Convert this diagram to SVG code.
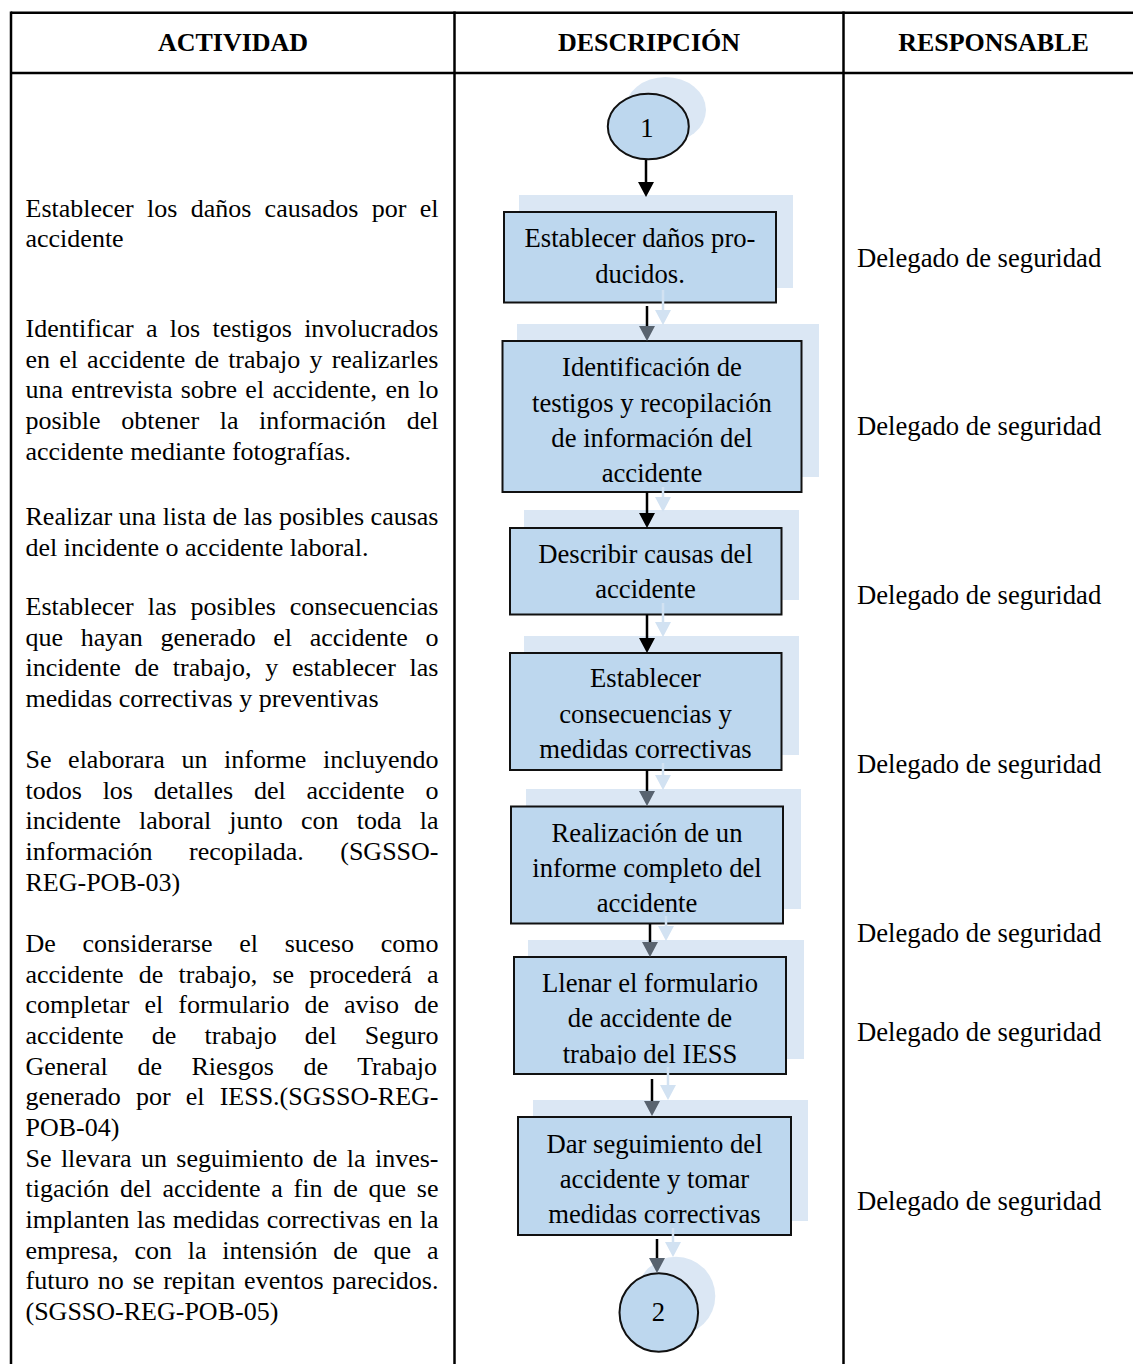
<svg xmlns="http://www.w3.org/2000/svg" width="1133" height="1364" viewBox="0 0 1133 1364">
<style>
.tbl{stroke:#000;stroke-width:2.5;fill:none}
.hdr{font-family:"Liberation Serif","Times New Roman",serif;font-size:26px;font-weight:bold;text-anchor:middle;fill:#000}
.act{font-family:"Liberation Serif","Times New Roman",serif;font-size:26px;fill:#000}
.resp{font-family:"Liberation Serif","Times New Roman",serif;font-size:26.67px;fill:#000}
.shd{fill:#dbe7f4}
.box{fill:#bdd7ee;stroke:#111;stroke-width:2}
.bt{font-family:"Liberation Serif","Times New Roman",serif;font-size:26.67px;text-anchor:middle;fill:#000}
.ln{stroke:#000;stroke-width:2.5;fill:none}
.lns{stroke:#d2e2f2;stroke-width:2.5;fill:none}
</style>
<defs>
<marker id="hb" viewBox="0 0 15 16" refX="0" refY="8" markerWidth="15" markerHeight="16" markerUnits="userSpaceOnUse" orient="auto"><path d="M0,0 L15,8 L0,16 z" fill="#000"/></marker>
<marker id="hg" viewBox="0 0 15 16" refX="0" refY="8" markerWidth="15" markerHeight="16" markerUnits="userSpaceOnUse" orient="auto"><path d="M0,0 L15,8 L0,16 z" fill="#58636f"/></marker>
<marker id="hl" viewBox="0 0 15 16" refX="0" refY="8" markerWidth="15" markerHeight="16" markerUnits="userSpaceOnUse" orient="auto"><path d="M0,0 L15,8 L0,16 z" fill="#d2e2f2"/></marker>
<clipPath id="clip6"><rect x="500" y="940" width="320" height="124.5"/></clipPath>
</defs>

<g id="table">
<line class="tbl" x1="11" y1="12.7" x2="1133" y2="12.7"/>
<line class="tbl" x1="11" y1="73" x2="1133" y2="73"/>
<line class="tbl" x1="11" y1="11.5" x2="11" y2="1364"/>
<line class="tbl" x1="454.5" y1="11.5" x2="454.5" y2="1364"/>
<line class="tbl" x1="843.5" y1="11.5" x2="843.5" y2="1364"/>
<text class="hdr" x="233" y="50.5">ACTIVIDAD</text>
<text class="hdr" x="649" y="50.5">DESCRIPCIÓN</text>
<text class="hdr" x="993.5" y="50.5">RESPONSABLE</text>
</g>

<g id="actividad">
<text class="act" x="25.5" y="216.5" word-spacing="6.78">Establecer los daños causados por el</text>
<text class="act" x="25.5" y="247">accidente</text>

<text class="act" x="25.5" y="337" word-spacing="5.76">Identificar a los testigos involucrados</text>
<text class="act" x="25.5" y="367.7" word-spacing="2.66">en el accidente de trabajo y realizarles</text>
<text class="act" x="25.5" y="398.4" word-spacing="1.81">una entrevista sobre el accidente, en lo</text>
<text class="act" x="25.5" y="429" word-spacing="14.07">posible obtener la información del</text>
<text class="act" x="25.5" y="459.7">accidente mediante fotografías.</text>

<text class="act" x="25.5" y="525">Realizar una lista de las posibles causas</text>
<text class="act" x="25.5" y="555.7">del incidente o accidente laboral.</text>

<text class="act" x="25.5" y="615" word-spacing="7.46">Establecer las posibles consecuencias</text>
<text class="act" x="25.5" y="645.7" word-spacing="11.13">que hayan generado el accidente o</text>
<text class="act" x="25.5" y="676.4" word-spacing="7.22">incidente de trabajo, y establecer las</text>
<text class="act" x="25.5" y="707">medidas correctivas y preventivas</text>

<text class="act" x="25.5" y="768" word-spacing="10.1">Se elaborara un informe incluyendo</text>
<text class="act" x="25.5" y="798.7" word-spacing="14.29">todos los detalles del accidente o</text>
<text class="act" x="25.5" y="829.4" word-spacing="11.69">incidente laboral junto con toda la</text>
<text class="act" x="25.5" y="860" word-spacing="29.95">información recopilada. (SGSSO-</text>
<text class="act" x="25.5" y="890.7">REG-POB-03)</text>

<text class="act" x="25.5" y="952" word-spacing="20.22">De considerarse el suceso como</text>
<text class="act" x="25.5" y="982.7" word-spacing="8.68">accidente de trabajo, se procederá a</text>
<text class="act" x="25.5" y="1013.4" word-spacing="8.52">completar el formulario de aviso de</text>
<text class="act" x="25.5" y="1044" word-spacing="21.66">accidente de trabajo del Seguro</text>
<text class="act" x="25.5" y="1074.7" word-spacing="23.1">General de Riesgos de Trabajo</text>
<text class="act" x="25.5" y="1105.4" word-spacing="8.65">generado por el IESS.(SGSSO-REG-</text>
<text class="act" x="25.5" y="1136">POB-04)</text>

<text class="act" x="25.5" y="1166.7" word-spacing="2.88">Se llevara un seguimiento de la inves-</text>
<text class="act" x="25.5" y="1197.3" word-spacing="4.23">tigación del accidente a fin de que se</text>
<text class="act" x="25.5" y="1228" word-spacing="0.72">implanten las medidas correctivas en la</text>
<text class="act" x="25.5" y="1258.7" word-spacing="9.26">empresa, con la intensión de que a</text>
<text class="act" x="25.5" y="1289.4" word-spacing="2.31">futuro no se repitan eventos parecidos.</text>
<text class="act" x="25.5" y="1320">(SGSSO-REG-POB-05)</text>
</g>

<g id="responsable">
<text class="resp" x="857" y="267">Delegado de seguridad</text>
<text class="resp" x="857" y="435">Delegado de seguridad</text>
<text class="resp" x="857" y="604">Delegado de seguridad</text>
<text class="resp" x="857" y="773">Delegado de seguridad</text>
<text class="resp" x="857" y="942">Delegado de seguridad</text>
<text class="resp" x="857" y="1041">Delegado de seguridad</text>
<text class="resp" x="857" y="1210">Delegado de seguridad</text>
</g>

<g id="shadows">
<ellipse class="shd" cx="665.5" cy="110" rx="40.5" ry="33"/>
<rect class="shd" x="519" y="195" width="274" height="93"/>
<rect class="shd" x="517" y="324" width="302" height="153"/>
<rect class="shd" x="524" y="510" width="275" height="90"/>
<rect class="shd" x="524" y="636" width="275" height="119"/>
<rect class="shd" x="526" y="789" width="275" height="120"/>
<rect class="shd" x="528" y="940" width="276" height="119"/>
<rect class="shd" x="533" y="1100" width="275" height="121"/>
<circle class="shd" cx="676" cy="1296" r="39.3"/>
</g>

<g id="start1">
<ellipse class="box" cx="648.3" cy="126.5" rx="40.5" ry="32.8"/>
<text class="bt" x="647" y="137">1</text>
</g>

<g id="n1">
<rect class="box" x="504" y="212" width="272" height="90.5"/>
<text class="bt" x="640" y="247">Establecer daños pro-</text>
<text class="bt" x="640" y="283">ducidos.</text>
</g>

<g id="n2">
<rect class="box" x="502.5" y="341" width="299" height="151"/>
<text class="bt" x="652" y="376">Identificación de</text>
<text class="bt" x="652" y="411.7">testigos y recopilación</text>
<text class="bt" x="652" y="446.7">de información del</text>
<text class="bt" x="652" y="481.7">accidente</text>
</g>

<g id="n3">
<rect class="box" x="510" y="528" width="271.5" height="86.5"/>
<text class="bt" x="645.5" y="563">Describir causas del</text>
<text class="bt" x="645.5" y="598">accidente</text>
</g>

<g id="n4">
<rect class="box" x="510" y="653" width="271.5" height="117"/>
<text class="bt" x="645.5" y="687">Establecer</text>
<text class="bt" x="645.5" y="722.5">consecuencias y</text>
<text class="bt" x="645.5" y="758">medidas correctivas</text>
</g>

<g id="n5">
<rect class="box" x="511" y="806.5" width="272" height="117"/>
<text class="bt" x="647" y="842">Realización de un</text>
<text class="bt" x="647" y="877">informe completo del</text>
<text class="bt" x="647" y="912">accidente</text>
</g>

<g id="n6">
<rect class="box" x="514" y="957" width="272" height="117"/>
<g clip-path="url(#clip6)">
<text class="bt" x="650" y="992">Llenar el formulario</text>
<text class="bt" x="650" y="1027">de accidente de</text>
<text class="bt" x="650" y="1063">trabajo del IESS</text>
</g>
</g>

<g id="n7">
<rect class="box" x="518" y="1117" width="273" height="118"/>
<text class="bt" x="654.5" y="1153">Dar seguimiento del</text>
<text class="bt" x="654.5" y="1188">accidente y tomar</text>
<text class="bt" x="654.5" y="1223">medidas correctivas</text>
</g>

<g id="end2">
<circle class="box" cx="658.8" cy="1312.5" r="39.3"/>
<text class="bt" x="658.5" y="1321">2</text>
</g>

<g id="connectors">
<line class="lns" x1="663" y1="290" x2="663" y2="310" marker-end="url(#hl)"/>
<line class="lns" x1="663" y1="487" x2="663" y2="497" marker-end="url(#hl)"/>
<line class="lns" x1="663" y1="603" x2="663" y2="622" marker-end="url(#hl)"/>
<line class="lns" x1="663" y1="763" x2="663" y2="775" marker-end="url(#hl)"/>
<line class="lns" x1="666" y1="916" x2="666" y2="926" marker-end="url(#hl)"/>
<line class="lns" x1="668" y1="1067" x2="668" y2="1085" marker-end="url(#hl)"/>
<line class="lns" x1="673" y1="1228" x2="673" y2="1242" marker-end="url(#hl)"/>

<line class="ln" x1="646" y1="160" x2="646" y2="182" marker-end="url(#hb)"/>
<line class="ln" x1="647" y1="306" x2="647" y2="326" marker-end="url(#hg)"/>
<line class="ln" x1="647" y1="492" x2="647" y2="513" marker-end="url(#hb)"/>
<line class="ln" x1="647" y1="614.5" x2="647" y2="638" marker-end="url(#hb)"/>
<line class="ln" x1="647" y1="770" x2="647" y2="791" marker-end="url(#hg)"/>
<line class="ln" x1="650" y1="924" x2="650" y2="942" marker-end="url(#hg)"/>
<line class="ln" x1="652" y1="1079" x2="652" y2="1101" marker-end="url(#hg)"/>
<line class="ln" x1="657" y1="1239" x2="657" y2="1258" marker-end="url(#hg)"/>
</g>
</svg>
